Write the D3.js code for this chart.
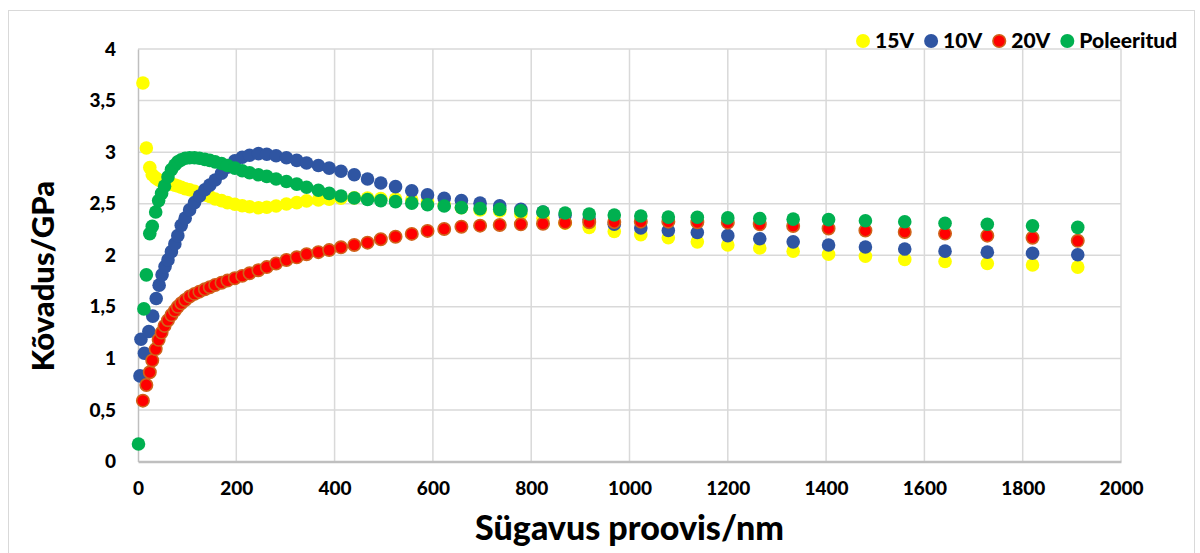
<!DOCTYPE html>
<html>
<head>
<meta charset="utf-8">
<script src="https://cdn.jsdelivr.net/npm/d3@7"></script>
<style>
  body { margin: 0; background: #fff; }
  text { font-family: Lato, "Open Sans", sans-serif; font-weight: 900; fill: #000; }
</style>
</head>
<body>
<script>
// depth grid (nm) shared by 15V and 20V, and by the later part of the others
const depth = [10, 17, 24, 29, 36, 42, 48, 54, 61, 68, 75, 81, 88, 96, 105, 115, 125, 136, 146, 157,
  170, 182, 197, 212, 227, 245, 262, 281, 302, 323, 343, 367, 389, 413, 440, 467, 494, 524, 557, 589,
  623, 658, 696, 736, 779, 824, 869, 918, 969, 1023, 1079, 1138, 1200, 1265, 1333, 1405, 1480, 1560,
  1642, 1728, 1820, 1912];

// 15V
const v15 = [3.67, 3.04, 2.85, 2.78, 2.75, 2.73, 2.72, 2.71, 2.70, 2.69, 2.68, 2.672, 2.66, 2.645, 2.635,
  2.62, 2.60, 2.585, 2.57, 2.545, 2.53, 2.51, 2.495, 2.48, 2.47, 2.46, 2.465, 2.478, 2.497, 2.51, 2.527,
  2.536, 2.543, 2.553, 2.556, 2.555, 2.55, 2.545, 2.535, 2.52, 2.49, 2.46, 2.44, 2.43, 2.40, 2.36, 2.31,
  2.27, 2.23, 2.20, 2.17, 2.13, 2.10, 2.07, 2.04, 2.01, 1.99, 1.96, 1.94, 1.92, 1.905, 1.885];

// 20V
const v20 = [0.59, 0.742, 0.865, 0.98, 1.09, 1.18, 1.25, 1.315, 1.37, 1.42, 1.463, 1.50, 1.534, 1.566,
  1.60, 1.625, 1.647, 1.67, 1.69, 1.712, 1.734, 1.754, 1.777, 1.80, 1.825, 1.855, 1.885, 1.92, 1.954,
  1.98, 2.01, 2.03, 2.05, 2.077, 2.10, 2.122, 2.155, 2.18, 2.207, 2.236, 2.255, 2.277, 2.287, 2.294, 2.30,
  2.306, 2.316, 2.32, 2.322, 2.326, 2.326, 2.32, 2.316, 2.30, 2.284, 2.26, 2.24, 2.226, 2.21, 2.19, 2.17,
  2.14];

// 10V: own first points, then the shared grid from 75 nm
const depth10Start = [4, 6, 13, 22, 30, 37, 43, 49, 55, 61, 68];
const v10 = [0.83, 1.185, 1.05, 1.26, 1.41, 1.58, 1.71, 1.81, 1.89, 1.955, 2.035,
  2.11, 2.19, 2.29, 2.36, 2.44, 2.51, 2.575, 2.635, 2.68, 2.73, 2.795, 2.855, 2.915, 2.95, 2.97, 2.985,
  2.98, 2.965, 2.945, 2.92, 2.895, 2.87, 2.845, 2.815, 2.78, 2.74, 2.70, 2.665, 2.625, 2.585, 2.553,
  2.53, 2.505, 2.48, 2.445, 2.42, 2.39, 2.35, 2.30, 2.265, 2.24, 2.22, 2.19, 2.16, 2.13, 2.10, 2.08,
  2.06, 2.04, 2.03, 2.02, 2.005];

// Poleeritud: two first points, then the shared grid from 17 nm
const depthPolStart = [1, 12];
const vPol = [0.17, 1.48, 1.81, 2.21, 2.28, 2.42, 2.53, 2.60, 2.67, 2.76, 2.83, 2.875, 2.905, 2.925,
  2.94, 2.945, 2.945, 2.94, 2.93, 2.92, 2.905, 2.89, 2.87, 2.845, 2.82, 2.80, 2.78, 2.765, 2.74, 2.715,
  2.69, 2.66, 2.63, 2.60, 2.575, 2.555, 2.54, 2.53, 2.52, 2.505, 2.49, 2.478, 2.462, 2.452, 2.445, 2.43,
  2.42, 2.41, 2.40, 2.39, 2.38, 2.37, 2.368, 2.362, 2.357, 2.35, 2.345, 2.335, 2.325, 2.31, 2.30, 2.285,
  2.27];

const xTicks = [0, 200, 400, 600, 800, 1000, 1200, 1400, 1600, 1800, 2000];
const yTicks = [0, 0.5, 1, 1.5, 2, 2.5, 3, 3.5, 4];

const series = [
  { name: "15V", x: depth, y: v15, fill: "#ffff00", stroke: "none" },
  { name: "10V", x: depth10Start.concat(depth.slice(10)), y: v10, fill: "#2f55a2", stroke: "none" },
  { name: "20V", x: depth, y: v20, fill: "#ff0000", stroke: "#d0621a" },
  { name: "Poleeritud", x: depthPolStart.concat(depth.slice(1)), y: vPol, fill: "#00b050", stroke: "none" }
];

const W = 1200, H = 553;
const plotL = 138, plotR = 1121, plotT = 49, plotB = 461.5;

const svg = d3.select("body").append("svg")
  .attr("width", W)
  .attr("height", H);

// chart border
svg.append("rect")
  .attr("x", 8.5).attr("y", 10.5)
  .attr("width", 1186).attr("height", 560)
  .attr("fill", "none")
  .attr("stroke", "#d9d9d9");

const x = d3.scaleLinear().domain([0, 2000]).range([plotL, plotR]);
const y = d3.scaleLinear().domain([0, 4]).range([plotB, plotT]);

// grid
svg.append("g").selectAll("line")
  .data(yTicks.slice(1))
  .join("line")
  .attr("x1", plotL).attr("x2", plotR)
  .attr("y1", d => y(d)).attr("y2", d => y(d))
  .attr("stroke", "#d9d9d9").attr("stroke-width", 1.5);

svg.append("g").selectAll("line")
  .data(xTicks.slice(1))
  .join("line")
  .attr("x1", d => x(d)).attr("x2", d => x(d))
  .attr("y1", plotT).attr("y2", plotB)
  .attr("stroke", "#d9d9d9").attr("stroke-width", 1.5);

// axes
const yAxis = svg.append("g")
  .attr("transform", `translate(${plotL},0)`)
  .call(d3.axisLeft(y).tickValues(yTicks).tickSize(0).tickPadding(22)
    .tickFormat(d => String(d).replace(".", ",")));
yAxis.select(".domain").attr("stroke", "#bfbfbf").attr("stroke-width", 1.5);
yAxis.selectAll("text").style("font-size", "19px");

const xAxis = svg.append("g")
  .attr("transform", `translate(0,${plotB})`)
  .call(d3.axisBottom(x).tickValues(xTicks).tickSize(0).tickPadding(20)
    .tickFormat(d => String(d)));
xAxis.select(".domain").attr("stroke", "#bfbfbf").attr("stroke-width", 2.5);
xAxis.selectAll("text").style("font-size", "19px");

// axis titles
svg.append("text")
  .attr("x", (plotL + plotR) / 2).attr("y", 540)
  .attr("text-anchor", "middle")
  .style("font-size", "34px")
  .text("Sügavus proovis/nm");

svg.append("text")
  .attr("transform", "translate(54,276) rotate(-90)")
  .attr("text-anchor", "middle")
  .style("font-size", "31px")
  .text("Kõvadus/GPa");

// points, one group per series
series.forEach(s => {
  svg.append("g").selectAll("circle")
    .data(s.x.map((d, i) => [d, s.y[i]]))
    .join("circle")
    .attr("cx", d => x(d[0]))
    .attr("cy", d => y(d[1]))
    .attr("r", s.stroke === "none" ? 6.8 : 6.2)
    .attr("fill", s.fill)
    .attr("stroke", s.stroke)
    .attr("stroke-width", 1.6);
});

// legend
const legend = svg.append("g").attr("transform", "translate(863,41)");
let lx = 0;
series.forEach(s => {
  legend.append("circle")
    .attr("cx", lx).attr("cy", 0)
    .attr("r", s.stroke === "none" ? 7 : 6.3)
    .attr("fill", s.fill)
    .attr("stroke", s.stroke)
    .attr("stroke-width", 1.6);
  const t = legend.append("text")
    .attr("x", lx + 12).attr("y", 0)
    .attr("dy", "0.35em")
    .style("font-size", "21px")
    .text(s.name);
  lx += 12 + t.node().getComputedTextLength() + 17;
});
</script>
</body>
</html>
